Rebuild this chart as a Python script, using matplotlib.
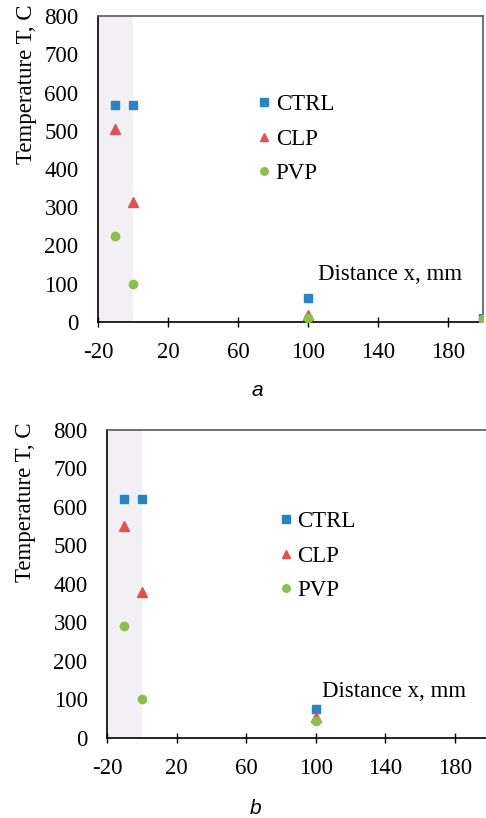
import matplotlib.pyplot as plt
import numpy as np

plt.rcParams['axes.unicode_minus'] = False

# panel a data
xa = [-10, 0, 100, 200]
ctrl_a = [567, 567, 63, 10]
clp_a = [504, 314, 18, 5]
pvp_a = [225, 98, 10, 8]

# panel b data
xb = [-10, 0, 100]
ctrl_b = [620, 620, 75]
clp_b = [551, 380, 55]
pvp_b = [290, 100, 43]

xticks = [-20, 20, 60, 100, 140, 180]
yticks = [0, 100, 200, 300, 400, 500, 600, 700, 800]

blue = '#2B83C6'
red = '#E05252'
green = '#8CBE4B'
serif = 'Liberation Serif'
fs = 16.5

fig = plt.figure(figsize=(4.86, 8.18), dpi=100)
ax1 = fig.add_axes([0.2016, 0.6064, 0.7922, 0.374])
ax2 = fig.add_axes([0.2202, 0.0982, 0.7872, 0.3761])


def style(ax, x, ctrl, clp, pvp, leg_anchor, dist_xy):
    ax.axvspan(-20, 0, color='#F2F0F4', zorder=0, lw=0)
    ax.plot(x, ctrl, 's', color=blue, ms=6, label='CTRL', zorder=3)
    ax.plot(x, clp, '^', color=red, ms=6.5, label='CLP', zorder=3)
    ax.plot(x, pvp, 'o', color=green, ms=6, label='PVP', zorder=3)
    ax.set_xlim(-20, 200)
    ax.set_ylim(0, 800)
    ax.set_xticks(xticks)
    ax.set_yticks(yticks)
    ax.tick_params(axis='x', direction='inout', length=7, width=1, pad=11)
    ax.tick_params(axis='y', length=0, pad=14)
    for lab in ax.get_xticklabels() + ax.get_yticklabels():
        lab.set_fontfamily(serif)
        lab.set_fontsize(fs)
    for s in ['left', 'bottom']:
        ax.spines[s].set_color('black')
        ax.spines[s].set_linewidth(1.2)
    for s in ['top', 'right']:
        ax.spines[s].set_color('#595959')
        ax.spines[s].set_linewidth(1.2)
    ax.legend(loc='center left', bbox_to_anchor=leg_anchor, frameon=False,
              prop={'family': serif, 'size': fs}, handlelength=0.5,
              handletextpad=0.25, labelspacing=0.58, markerscale=0.9,
              borderaxespad=0)
    ax.text(dist_xy[0], dist_xy[1], 'Distance x, mm', family=serif, fontsize=fs,
            va='center', ha='left')


style(ax1, xa, ctrl_a, clp_a, pvp_a, (0.393, 0.598), (105.5, 123))
style(ax2, xb, ctrl_b, clp_b, pvp_b, (0.429, 0.590), (103.5, 120))

fig.text(0.054, 0.994, 'Temperature T, C', family=serif, fontsize=fs,
         rotation=90, ha='center', va='top')
fig.text(0.053, 0.483, 'Temperature T, C', family=serif, fontsize=fs,
         rotation=90, ha='center', va='top')
fig.text(0.529, 0.523, 'a', family='Liberation Sans', style='italic',
         fontsize=15, ha='center', va='center')
fig.text(0.525, 0.012, 'b', family='Liberation Sans', style='italic',
         fontsize=15, ha='center', va='center')

fig.savefig('out.png', dpi=100)
